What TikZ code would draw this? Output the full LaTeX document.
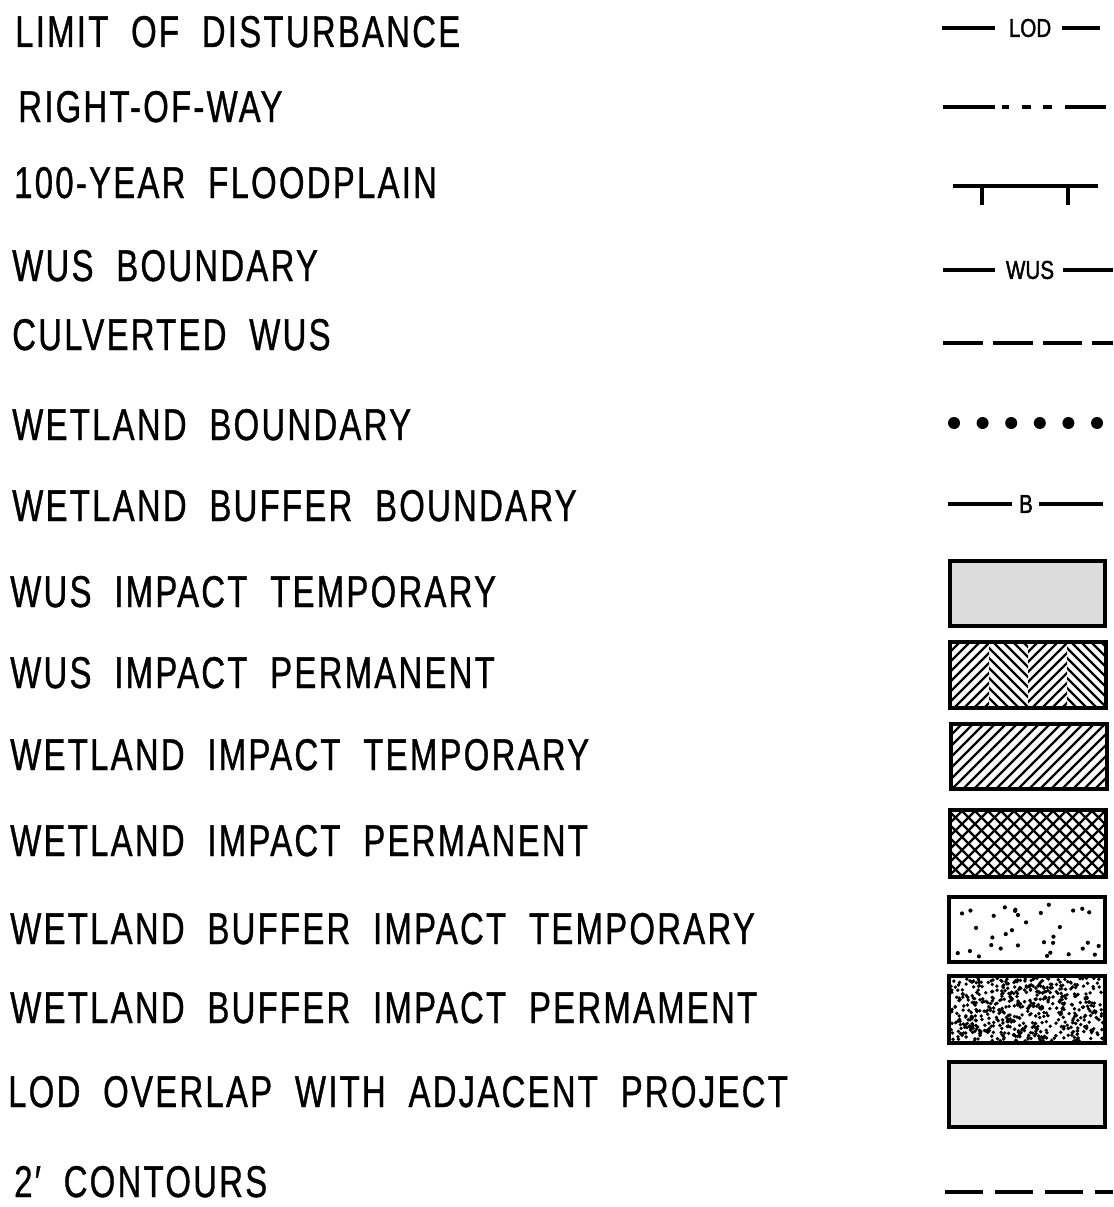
\documentclass[tikz,border=0pt]{standalone}
\usepackage{fontspec}
\setmainfont{Liberation Sans}
\newfontfamily\cadfont{Liberation Sans}[FakeStretch=0.74,LetterSpace=5,WordSpace=2.0,FakeBold=0.8]
\newfontfamily\cadsmall{Liberation Sans}[FakeStretch=0.8,FakeBold=1.5]
\definecolor{tempgray}{HTML}{DCDCDC}
\definecolor{overlapgray}{HTML}{E8E8E8}

\begin{document}
\begin{tikzpicture}[x=0.03cm, y=-0.03cm,
    legtext/.style={anchor=base west, inner sep=0pt, text depth=0pt, font=\cadfont\fontsize{38}{40}\selectfont},
    symtext/.style={inner sep=0pt, font=\cadsmall\fontsize{22}{24}\selectfont},
    symline/.style={line width=3.4pt},
    boxline/.style={line width=3pt},
    hatch/.style={line width=2pt}]
    \useasboundingbox (0,0) rectangle (1113,1207);

    % Legend texts.
    \node[legtext] (lod) at (15,47) {LIMIT OF DISTURBANCE};
    \node[legtext] (row) at (18,122) {RIGHT-OF-WAY};
    \node[legtext] (flood) at (14,198) {100-YEAR FLOODPLAIN};
    \node[legtext] (wus) at (12,281) {WUS BOUNDARY};
    \node[legtext] (culv) at (12,350) {CULVERTED WUS};
    \node[legtext] (wet) at (12,440) {WETLAND BOUNDARY};
    \node[legtext] (buf) at (12,521) {WETLAND BUFFER BOUNDARY};
    \node[legtext] (wustemp) at (10,607) {WUS IMPACT TEMPORARY};
    \node[legtext] (wusperm) at (10,688) {WUS IMPACT PERMANENT};
    \node[legtext] (wettemp) at (10,770) {WETLAND IMPACT TEMPORARY};
    \node[legtext] (wetperm) at (10,856) {WETLAND IMPACT PERMANENT};
    \node[legtext] (buftemp) at (10,944) {WETLAND BUFFER IMPACT TEMPORARY};
    \node[legtext] (bufperm) at (10,1023) {WETLAND BUFFER IMPACT PERMAMENT};
    \node[legtext] (overlap) at (8,1107) {LOD OVERLAP WITH ADJACENT PROJECT};
    \node[legtext] (cont) at (14,1197) {2′ CONTOURS};

    % Line symbols.
    \draw[symline] (942,28) -- (995,28) (1062,28) -- (1100,28);
    \node[symtext] (lodtag) at (1030,28) {LOD};
    \draw[symline] (943,107) -- (995,107) (1002,107) -- (1009,107) (1022,107) -- (1031,107)
        (1043,107) -- (1052,107) (1065,107) -- (1106,107);
    \draw[symline] (953,186) -- (1098,186) (982,186) -- (982,205) (1068,186) -- (1068,205);
    \draw[symline] (943,270) -- (995,270) (1063,270) -- (1113,270);
    \node[symtext] (wustag) at (1030,270) {WUS};
    \draw[symline, dash pattern=on 34pt off 8.5pt] (943,343) -- (1113,343);
    \foreach \i in {0,...,5}
        \fill (954+28.6*\i,423) circle (6);
    \draw[symline] (948,504) -- (1012,504) (1039,504) -- (1103,504);
    \node[symtext] (btag) at (1026,504) {B};

    % Area symbols.
    \filldraw[fill=tempgray, boxline] (950,561) rectangle (1105,626);

    \begin{scope}
        \clip (950,642) rectangle (1106,708);
        \foreach \c in {0,...,3} {
            \begin{scope}
                \clip (950+39*\c,642) rectangle ++(39,66);
                \pgfmathsetmacro\dir{ifthenelse(mod(\c,2)==0,1,-1)}
                \foreach \k in {0,...,11}
                    \draw[hatch] (950+39*\c+10*\k-66,675+33*\dir) -- ++(66,-66*\dir);
            \end{scope}
        }
    \end{scope}
    \draw[boxline] (950,642) rectangle (1106,708);

    \begin{scope}
        \clip (951,724) rectangle (1107,789);
        \foreach \k in {0,...,22}
            \draw[hatch] (951-65+11*\k,789) -- ++(65,-65);
    \end{scope}
    \draw[boxline] (951,724) rectangle (1107,789);

    \begin{scope}
        \clip (950,810) rectangle (1106,877);
        \foreach \k in {0,...,18} {
            \draw[hatch] (950-67+13*\k,877) -- ++(67,-67);
            \draw[hatch] (950-67+13*\k,810) -- ++(67,67);
        }
    \end{scope}
    \draw[boxline] (950,810) rectangle (1106,877);

    \pgfmathsetseed{7}
    \foreach \i in {1,...,34} {
        \pgfmathsetmacro\px{953+148*rnd}
        \pgfmathsetmacro\py{901+57*rnd}
        \fill (\px,\py) circle (2.1);
    }
    \draw[boxline] (949,897) rectangle (1105,962);

    \foreach \i in {1,...,560} {
        \pgfmathsetmacro\px{951+152*rnd}
        \pgfmathsetmacro\py{978+63*rnd}
        \fill (\px,\py) circle (1.9);
    }
    \draw[boxline] (949,976) rectangle (1105,1043);

    \filldraw[fill=overlapgray, boxline] (949,1062) rectangle (1105,1127);

    \draw[symline, dash pattern=on 32.4pt off 10.2pt] (945,1192) -- (1113,1192);
\end{tikzpicture}
\end{document}
